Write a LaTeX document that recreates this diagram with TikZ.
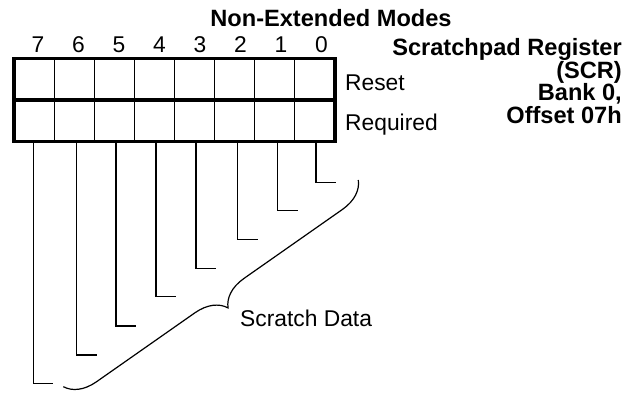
\documentclass[tikz,border=0pt]{standalone}
\usepackage{fontspec}
\setmainfont{Liberation Sans}
\usetikzlibrary{decorations.pathreplacing}
\begin{document}
\begin{tikzpicture}[x=1pt,y=-1pt,
 cell/.style={draw, line width=1.2pt, minimum width=40.125pt, minimum height=41.5pt, inner sep=0pt, outer sep=0pt},
 lbl/.style={font=\fontsize{22.8}{26}\selectfont, inner sep=0pt},
 blbl/.style={font=\fontsize{23.6}{27}\selectfont\bfseries, inner sep=0pt},
 wire/.style={line width=1.2pt},
 frame/.style={line width=3.6pt}]
\useasboundingbox (0,0) rectangle (638,392);
% register cells
\foreach \i in {0,...,7}{
  \pgfmathtruncatemacro\b{7-\i}
  \node[cell] (r\b) at ({34.06+40.125*\i},79.25) {};
  \node[cell] (q\b) at ({34.06+40.125*\i},120.75) {};
  \node[lbl, anchor=base] (d\b) at ({38+40.5*\i},52.5) {\b};
}
\draw[frame] (r7.north west) rectangle (q0.south east);
\draw[frame] (r7.south west) -- (r0.south east);
% titles
\node[blbl, anchor=base] (title) at (331,26) {Non-Extended Modes};
\node[blbl, anchor=base east] (s1) at (622,55) {Scratchpad Register};
\node[blbl, anchor=base east] (s2) at (622,78) {(SCR)};
\node[blbl, anchor=base east] (s3) at (622,100.5) {Bank 0,};
\node[blbl, anchor=base east] (s4) at (622,123) {Offset 07h};
\node[lbl, anchor=base west] (reset) at (345,90) {Reset};
\node[lbl, anchor=base west] (req) at (345,130) {Required};
% wires
\foreach \b/\x/\y in {7/33.3/383.3, 6/76.7/355, 5/116/326, 4/156/296.7, 3/196/268.3, 2/237.7/239.3, 1/277.7/210.7, 0/316/182.3}{
  \coordinate (e\b) at (\x,\y);
  \coordinate (f\b) at (\x+20,\y);
  \draw[wire] (e\b |- q\b.south) -- (e\b) -- (f\b);
}
% brace
\coordinate (bt) at (358.3,180);
\coordinate (bb) at (63.3,386.7);
\draw[wire, decorate, decoration={brace, amplitude=30pt}] (bt) -- (bb);
\node[lbl, anchor=base west] (sd) at (240,326.5) {Scratch Data};
\end{tikzpicture}
\end{document}
